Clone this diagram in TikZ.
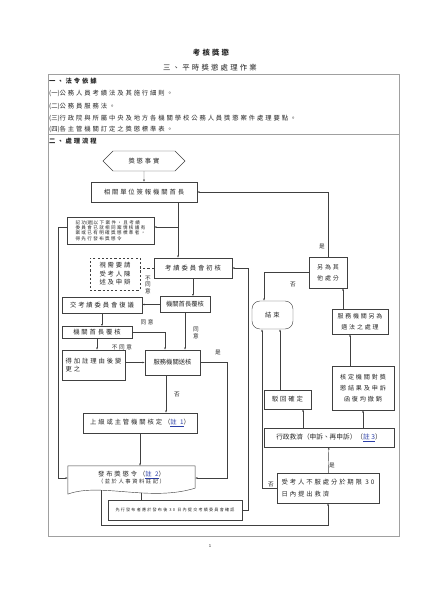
\documentclass[tikz,border=0pt]{standalone}
\usepackage{fontspec}
\usepackage{tikz}
\usetikzlibrary{shapes.symbols,arrows.meta,calc}
\newfontfamily\cjk[LetterSpace=30]{Noto Sans CJK TC}
\newfontfamily\cjkt{Noto Sans CJK TC}
\definecolor{wire}{HTML}{404040}
\definecolor{frame}{HTML}{A0A0A0}
\definecolor{note}{HTML}{2B3FA8}
\newcommand{\zhu}[1]{\textcolor{note}{\underline{#1}}}
\newcommand{\lawno}[1]{{\cjkt(}#1{\cjkt)}}

\begin{document}
\begin{tikzpicture}[x=0.05cm,y=-0.05cm,
  every node/.style={font=\cjk\fontsize{9}{12}\selectfont, text=black!85},
  box/.style={draw=wire, line width=0.6pt, inner sep=1pt, align=center},
  tight/.style={font=\cjkt\fontsize{9}{12}\selectfont},
  tag/.style={inner sep=0pt, font=\cjk\fontsize{8}{10}\selectfont},
  body/.style={anchor=west, inner sep=0pt},
  link/.style={draw=wire, line width=0.6pt},
  arr/.style={link, -{Latex[length=3.2pt,width=2.6pt]}}]
\useasboundingbox[fill=white] (0,0) rectangle (420,593);
% title
\node[font=\cjk\fontsize{10.5}{12}\selectfont\bfseries] (title) at (211,53) {考核獎懲};
\node[font=\cjk\fontsize{10.5}{12}\selectfont] (subtitle) at (210,68) {三、平時獎懲處理作業};
% table
\draw[frame, line width=0.8pt] (48,74) rectangle (399,536) (48,134) -- (399,134);
\node[body, font=\cjk\fontsize{9}{12}\selectfont\bfseries] (law) at (49,81) {一、法令依據};
\node[body] (law1) at (49,93) {\lawno{一}公務人員考績法及其施行細則。};
\node[body] (law2) at (49,106) {\lawno{二}公務員服務法。};
\node[body] (law3) at (49,118) {\lawno{三}行政院與所屬中央及地方各機關學校公務人員獎懲案件處理要點。};
\node[body] (law4) at (49,129) {\lawno{四}各主管機關訂定之獎懲標準表。};
\node[body, font=\cjk\fontsize{9}{12}\selectfont\bfseries] (flow) at (49,141) {二、處理流程};
\node[font=\cjk\fontsize{6}{7}\selectfont] (page) at (210,546) {1};
% left column
\node[box, signal, signal to=west and east, minimum width=4.1cm, minimum height=1cm] (fact) at (144,161) {獎懲事實};
\node[box, minimum width=5.3cm, minimum height=1cm] (report) at (144,192) {相關單位簽報機關首長};
\node[box, minimum width=4.35cm, minimum height=1.35cm, align=left, font=\cjk\fontsize{6.5}{7.4}\selectfont] (quick) at (110.5,230.5) {記功\lawno{過}以下案件，且考績\\委員會已就相同案情核議有\\案或已有明確獎懲標準者，\\得先行發布獎懲令};
\node[box, dashed, minimum width=2.5cm, minimum height=1.6cm] (ask) at (115,274) {視需要請\\受考人陳\\述及申辯};
\node[box, minimum width=3.9cm, minimum height=1cm] (prelim) at (193,268) {考績委員會初核};
\node[box, tight, minimum width=2.5cm, minimum height=0.8cm] (chief) at (185,304.5) {機關首長覆核};
\node[box, minimum width=4cm, minimum height=0.8cm] (review) at (102,305) {交考績委員會復議};
\node[box, minimum width=3.5cm, minimum height=0.6cm] (recheck) at (97,332.5) {機關首長覆核};
\node[box, align=left, minimum width=3.15cm, minimum height=1.5cm] (change) at (93.5,365) {得加註理由後變\\更之};
\node[box, tight, minimum width=2.75cm, minimum height=1.25cm] (send) at (172.5,362.5) {服務機關送核};
\node[box, minimum width=5.7cm, minimum height=1cm] (upper) at (140,423) {上級或主管機關核定（\zhu{註 1}）};
\node[inner sep=1pt, align=center, minimum width=6.35cm, minimum height=1.2cm] (issue) at (131.5,478) {發布獎懲令（\zhu{註 2}）\\[-2pt]{\fontsize{7.5}{9}\selectfont（並於人事資料註記）}};
\draw[link] (issue.south west) -- (issue.north west) -- (issue.north east) -- ($(issue.south east)+(0,-2)$)
  .. controls ($(issue.south east)+(-45,12)$) and ($(issue.south west)+(32,-8)$) .. ($(issue.south west)+(0,4)$)
  coordinate[pos=0.39] (iss2) coordinate[pos=0.70] (iss1) -- cycle;
\node[box, minimum width=6.7cm, minimum height=1cm, font=\cjk\fontsize{5.8}{7}\selectfont] (later) at (175,510) {先行發布者應於發布後 30 日內提交考績委員會確認};
% right column
\node[box, minimum width=1.9cm, minimum height=1.55cm, font=\cjk\fontsize{8.5}{15}\selectfont] (other) at (328,272.5) {另為其\\他處分};
\node[box, rounded corners=4mm, minimum width=2.05cm, minimum height=1.4cm] (end) at (272.5,315) {結束};
\node[box, minimum width=2.8cm, minimum height=1.25cm, font=\cjk\fontsize{8.5}{15}\selectfont] (redo) at (360,321.5) {服務機關另為\\適法之處理};
\node[box, minimum width=3.1cm, minimum height=2.2cm, font=\cjk\fontsize{8.7}{16}\selectfont] (revoke) at (363,388) {核定機關對獎\\懲結果及申訴\\函復均撤銷};
\node[box, minimum width=2.35cm, minimum height=0.95cm] (reject) at (287.5,399.5) {駁回確定};
\node[box, minimum width=6.5cm, minimum height=0.95cm, font=\cjkt\fontsize{9.5}{12}\selectfont] (appeal) at (329,437.5) {行政救濟（申訴、再申訴）（\zhu{註 3}）};
\node[box, align=left, minimum width=5.1cm, minimum height=1.5cm, font=\cjk\fontsize{9}{16}\selectfont] (dissent) at (328,488) {受考人不服處分於期限 30\\日內提出救濟};
% junctions
\coordinate (split) at (178,227);
\coordinate (lside) at (58,227);
\coordinate (agree) at (165,0);
\coordinate (down) at (166,0);
\coordinate (yes) at (227,0);
\coordinate (bot) at (0,525);
\coordinate (back) at (248,0);
\coordinate (nope) at (262,0);
\coordinate (ok) at (280,0);
\coordinate (rj) at (303,0);
\coordinate (rv) at (350,0);
\coordinate (rd) at (343,0);
\coordinate (ret) at (264,0);
% connectors
\draw[arr] (fact) -- (report);
\draw[link] (report.south -| split) -- (split);
\draw[arr] (split) -- (split |- prelim.north);
\draw[arr] (split) -- (quick.east |- split);
\draw[arr] (quick.west |- lside) -- (lside) |- (issue.west);
\draw[link, dashed] (prelim.west) -- (prelim.west -| ask.east);
\draw[arr] (prelim.south) -- (prelim.south |- chief.north);
\draw[arr] (chief.west) -- (chief.west -| review.east);
\draw[arr] (review.south) -- (review.south |- recheck.north);
\draw[arr] (recheck.east) -| (agree |- send.north);
\draw[arr] (chief.south) -- (chief.south |- send.north);
\draw[arr] (recheck.south) -- (recheck.south |- change.north);
\draw[arr] (change.east |- send.west) -- (send.west);
\draw[arr] (send.south -| down) -- (down |- upper.north);
\draw[arr] (send.east) -| (yes |- issue.east) -- (issue.east);
\draw[arr] (upper.south) -- (upper.south |- issue.north);
\draw[link] (iss2) -- (iss2 |- later.north);
\draw[arr] (iss1) -- (iss1 |- bot) -| (dissent.south);
\draw[arr] (later.east) -| (back |- prelim.east) -- (prelim.east);
\draw[arr] (dissent) -- (appeal);
\draw[arr] (dissent.west) -| (nope |- end.south);
\draw[arr] (reject.north -| ok) -- (ok |- end.south);
\draw[arr] (appeal.north -| rj) -- (rj |- reject.south);
\draw[arr] (appeal.north -| revoke.south) -- (revoke.south);
\draw[arr] (revoke.north -| rv) -- (rv |- redo.south);
\draw[arr] (redo.north -| rd) -- (rd |- other.south);
\draw[arr] (other.west) -| (ret |- end.north);
\draw[arr] (other.north) |- (report.east);
% labels
\node[tag, align=center, font=\cjk\fontsize{8}{9.5}\selectfont] (no1) at (148,285) {不\\同\\意};
\node[tag] (ok1) at (147,322) {同意};
\node[tag, align=center, font=\cjk\fontsize{8}{9.5}\selectfont] (ok2) at (196,333) {同\\意};
\node[tag] (no2) at (122,347) {不同意};
\node[tag] (yes1) at (218,352) {是};
\node[tag] (no3) at (177,395) {否};
\node[tag] (yes2) at (322,246) {是};
\node[tag] (no4) at (293,285) {否};
\node[tag] (yes3) at (332,465) {是};
\node[tag] (no5) at (271,485) {否};
\end{tikzpicture}
\end{document}
